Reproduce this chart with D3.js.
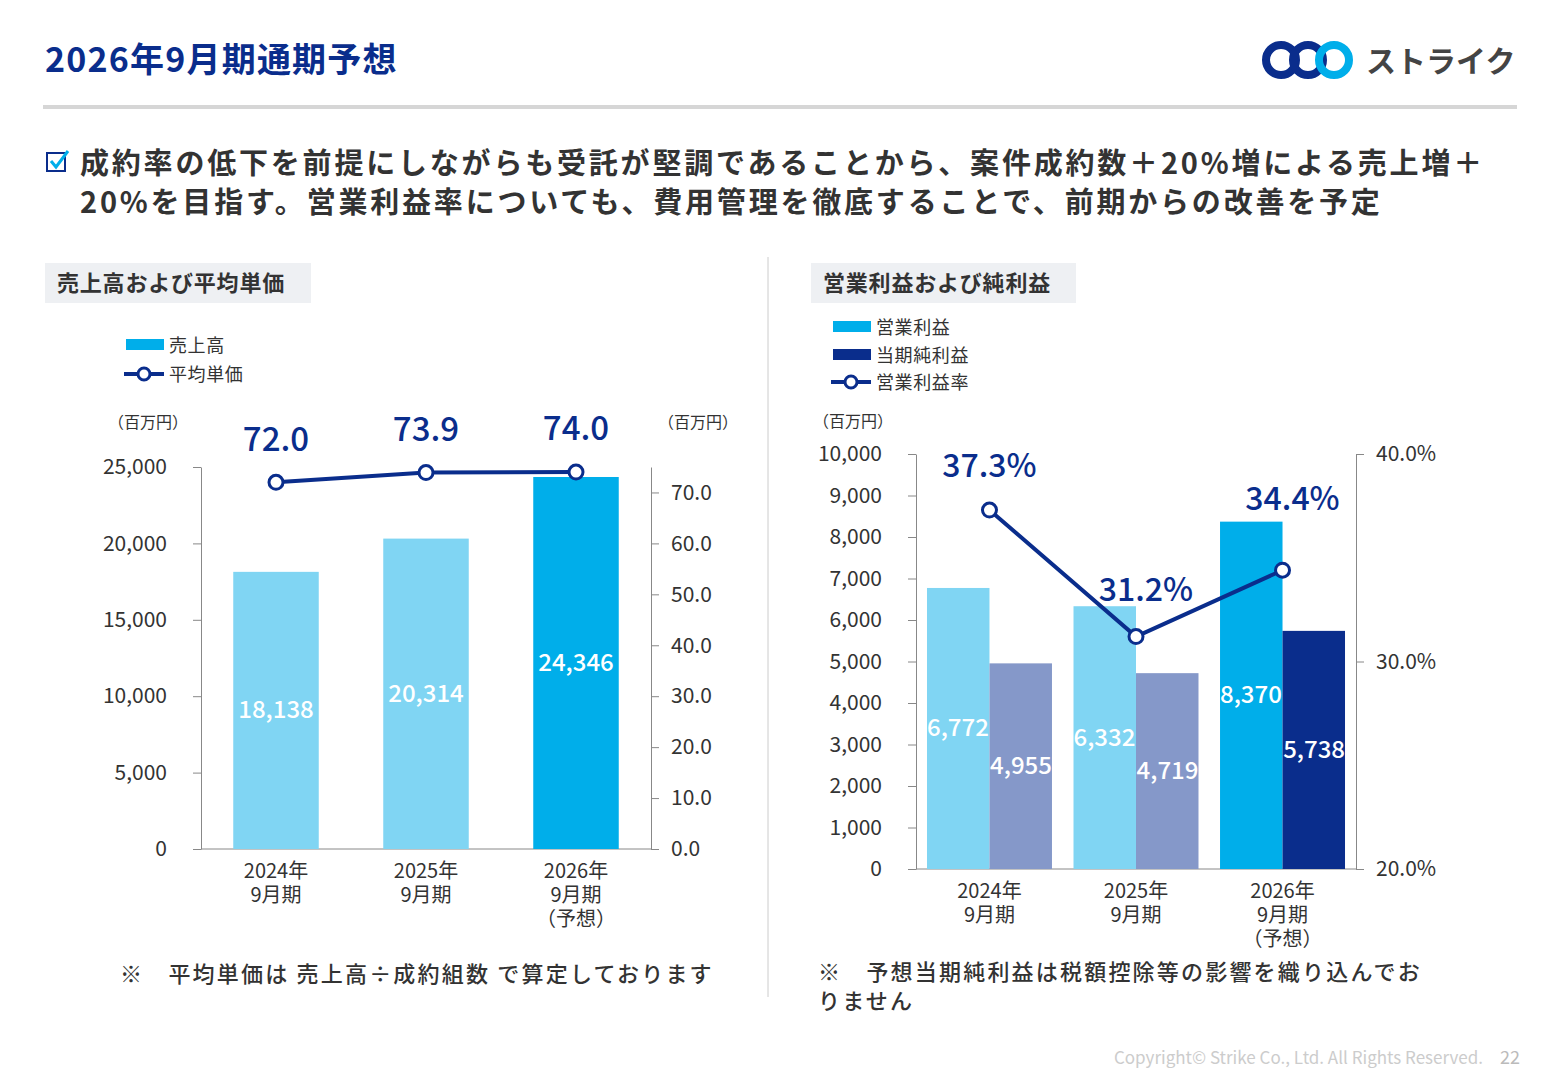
<!DOCTYPE html>
<html><head><meta charset="utf-8">
<script src="https://cdn.jsdelivr.net/npm/d3@7"></script>
<style>
body{margin:0;background:#fff;font-family:"Noto Sans CJK JP","Noto Sans",sans-serif;}
text{font-family:"Noto Sans CJK JP","Noto Sans",sans-serif;}
</style></head><body>
<svg id="c" width="1560" height="1080"></svg>
<script>
// Data
const periods = [["2024年","9月期"],["2025年","9月期"],["2026年","9月期","（予想）"]];
const sales = [18138, 20314, 24346];
const avgPrice = [72.0, 73.9, 74.0];
const opProfit = [6772, 6332, 8370];
const netProfit = [4955, 4719, 5738];
const opMargin = [37.3, 31.2, 34.4];
const salesTicks = [0, 5000, 10000, 15000, 20000, 25000];
const priceTicks = [0, 10, 20, 30, 40, 50, 60, 70];
const profitTicks = d3.range(0, 10001, 1000);
const marginTicks = [20, 30, 40];

const navy = "#0a2d8c", light = "#80d5f3", cyan = "#00aeea", lilac = "#8598c9", grey = "#333";
const svg = d3.select("#c");

// Header
svg.append("text").attr("x", 45).attr("y", 72).attr("font-size", 34).attr("font-weight", 700)
  .attr("letter-spacing", 1.2).attr("fill", navy).text("2026年9月期通期予想");
svg.append("rect").attr("x", 43).attr("y", 105).attr("width", 1474).attr("height", 4).attr("fill", "#d6d6d6");
// logo
const lg = svg.append("g").attr("transform", "translate(1263,60)");
[[0, navy], [27, navy], [53, cyan]].forEach(([dx, c]) => {
  lg.append("circle").attr("cx", 18 + dx).attr("cy", 0).attr("r", 15).attr("fill", "none")
    .attr("stroke", c).attr("stroke-width", 8);
});
svg.append("text").attr("x", 1366).attr("y", 72).attr("font-size", 30).attr("font-weight", 700)
  .attr("fill", "#444").text("ストライク");

// checkbox + lead
const cb = svg.append("g").attr("transform", "translate(47,153)");
cb.append("rect").attr("width", 18).attr("height", 18).attr("fill", "none").attr("stroke", navy).attr("stroke-width", 2);
cb.append("path").attr("d", "M4,8 L9,14 L21,-2").attr("fill", "none").attr("stroke", cyan).attr("stroke-width", 3);
svg.append("text").attr("x", 80).attr("y", 174).attr("font-size", 29).attr("font-weight", 700).attr("fill", grey)
  .attr("letter-spacing", 2.8).text("成約率の低下を前提にしながらも受託が堅調であることから、案件成約数＋20%増による売上増＋");
svg.append("text").attr("x", 80).attr("y", 213).attr("font-size", 29).attr("font-weight", 700).attr("fill", grey)
  .attr("letter-spacing", 2.8).text("20%を目指す。営業利益率についても、費用管理を徹底することで、前期からの改善を予定");

svg.append("line").attr("x1", 768).attr("x2", 768).attr("y1", 257).attr("y2", 997).attr("stroke", "#ccc");

function panelTitle(x, w, t) {
  svg.append("rect").attr("x", x).attr("y", 263).attr("width", w).attr("height", 40).attr("fill", "#eef0f3");
  svg.append("text").attr("x", x + 12).attr("y", 291).attr("font-size", 22).attr("font-weight", 700)
    .attr("letter-spacing", 0.8).attr("fill", grey).text(t);
}
panelTitle(45, 266, "売上高および平均単価");
panelTitle(811, 265, "営業利益および純利益");

function legendRect(x, y, c, t) {
  svg.append("rect").attr("x", x).attr("y", y - 6).attr("width", 38).attr("height", 11).attr("fill", c);
  svg.append("text").attr("x", x + 43).attr("y", y + 7).attr("font-size", 18).attr("letter-spacing", 0.6).attr("fill", grey).text(t);
}
function legendLine(x, y, t) {
  svg.append("line").attr("x1", x).attr("x2", x + 40).attr("y1", y).attr("y2", y).attr("stroke", navy).attr("stroke-width", 4);
  svg.append("circle").attr("cx", x + 20).attr("cy", y).attr("r", 6).attr("fill", "#fff").attr("stroke", navy).attr("stroke-width", 3);
  svg.append("text").attr("x", x + 45).attr("y", y + 7).attr("font-size", 18).attr("letter-spacing", 0.6).attr("fill", grey).text(t);
}
function styleAxis(g) {
  g.selectAll("path,line").attr("stroke", "#888");
  g.selectAll("text").attr("font-size", 21).attr("fill", grey);
}
function xLabels(x, yTop) {
  periods.forEach((p, i) => {
    const t = svg.append("text").attr("text-anchor", "middle").attr("font-size", 20).attr("fill", grey);
    p.forEach((s, j) => t.append("tspan").attr("x", x(i)).attr("y", yTop + j * 24).text(s));
  });
}

// ---------- Left chart ----------
legendRect(126, 345, cyan, "売上高");
legendLine(124, 374, "平均単価");
svg.append("text").attr("x", 108).attr("y", 428).attr("font-size", 16).attr("fill", grey).text("（百万円）");
svg.append("text").attr("x", 658).attr("y", 428).attr("font-size", 16).attr("fill", grey).text("（百万円）");

const xL = d3.scaleBand().domain(d3.range(3)).range([201, 651]).paddingInner(0.43).paddingOuter(0.215);
const yL = d3.scaleLinear().domain([0, 25000]).range([849, 467]);
const yL2 = d3.scaleLinear().domain([0, 75]).range([849, 467]);

svg.append("g").attr("transform", "translate(201,0)")
  .call(d3.axisLeft(yL).tickValues(salesTicks).tickFormat(d3.format(",")).tickSize(8).tickPadding(26).tickSizeOuter(0))
  .call(styleAxis);
svg.append("g").attr("transform", "translate(651,0)")
  .call(d3.axisRight(yL2).tickValues(priceTicks).tickFormat(d3.format(".1f")).tickSize(8).tickPadding(12).tickSizeOuter(0))
  .call(styleAxis);
svg.append("line").attr("x1", 201).attr("x2", 651).attr("y1", 849).attr("y2", 849).attr("stroke", "#888");

svg.selectAll(".sb").data(sales).enter().append("rect")
  .attr("x", (d, i) => xL(i)).attr("width", xL.bandwidth())
  .attr("y", d => yL(d)).attr("height", d => 849 - yL(d))
  .attr("fill", (d, i) => i === 2 ? cyan : light);
svg.selectAll(".sl").data(sales).enter().append("text")
  .attr("x", (d, i) => xL(i) + xL.bandwidth() / 2).attr("y", d => yL(d / 2) + 8)
  .attr("text-anchor", "middle").attr("font-size", 24).attr("font-weight", 500).attr("fill", "#fff").text(d3.format(","));

const cxL = i => xL(i) + xL.bandwidth() / 2;
svg.append("path").datum(avgPrice).attr("fill", "none").attr("stroke", navy).attr("stroke-width", 4)
  .attr("d", d3.line().x((d, i) => cxL(i)).y(d => yL2(d)));
svg.selectAll(".pc").data(avgPrice).enter().append("circle")
  .attr("cx", (d, i) => cxL(i)).attr("cy", d => yL2(d)).attr("r", 7)
  .attr("fill", "#fff").attr("stroke", navy).attr("stroke-width", 3);
svg.selectAll(".pl").data(avgPrice).enter().append("text")
  .attr("x", (d, i) => cxL(i)).attr("y", (d, i) => [451, 441, 440][i])
  .attr("text-anchor", "middle").attr("font-size", 33).attr("font-weight", 500).attr("fill", navy).text(d3.format(".1f"));
xLabels(cxL, 878);
svg.append("text").attr("x", 120).attr("y", 982).attr("font-size", 22).attr("font-weight", 500).attr("fill", grey)
  .attr("letter-spacing", 2.2).text("※　平均単価は 売上高÷成約組数 で算定しております");

// ---------- Right chart ----------
legendRect(833, 327, cyan, "営業利益");
legendRect(833, 355, navy, "当期純利益");
legendLine(831, 382, "営業利益率");
svg.append("text").attr("x", 813).attr("y", 427).attr("font-size", 16).attr("fill", grey).text("（百万円）");

const xR = d3.scaleBand().domain(d3.range(3)).range([916, 1356]).paddingInner(0.147).paddingOuter(0.075);
const yR = d3.scaleLinear().domain([0, 10000]).range([869, 454]);
const yR2 = d3.scaleLinear().domain([20, 40]).range([869, 454]);

svg.append("g").attr("transform", "translate(916,0)")
  .call(d3.axisLeft(yR).tickValues(profitTicks).tickFormat(d3.format(",")).tickSize(8).tickPadding(26).tickSizeOuter(0))
  .call(styleAxis);
svg.append("g").attr("transform", "translate(1356,0)")
  .call(d3.axisRight(yR2).tickValues(marginTicks).tickFormat(d => d.toFixed(1) + "%").tickSize(8).tickPadding(12).tickSizeOuter(0))
  .call(styleAxis);
svg.append("line").attr("x1", 916).attr("x2", 1356).attr("y1", 869).attr("y2", 869).attr("stroke", "#888");

const half = xR.bandwidth() / 2;
const series = [
  {vals: opProfit, off: 0, col: i => i === 2 ? cyan : light, anchor: "start", dx: 0},
  {vals: netProfit, off: half, col: i => i === 2 ? navy : lilac, anchor: "end", dx: half}
];
series.forEach(s => {
  svg.append("g").selectAll("rect").data(s.vals).enter().append("rect")
    .attr("x", (d, i) => xR(i) + s.off).attr("width", half)
    .attr("y", d => yR(d)).attr("height", d => 869 - yR(d)).attr("fill", (d, i) => s.col(i));
  svg.append("g").selectAll("text").data(s.vals).enter().append("text")
    .attr("x", (d, i) => xR(i) + s.off + s.dx).attr("y", d => yR(d * 0.5) + 8)
    .attr("text-anchor", s.anchor).attr("font-size", 24).attr("font-weight", 500).attr("fill", "#fff").text(d3.format(","));
});

const cxR = i => xR(i) + half;
svg.append("path").datum(opMargin).attr("fill", "none").attr("stroke", navy).attr("stroke-width", 4)
  .attr("d", d3.line().x((d, i) => cxR(i)).y(d => yR2(d)));
svg.selectAll(".mc").data(opMargin).enter().append("circle")
  .attr("cx", (d, i) => cxR(i)).attr("cy", d => yR2(d)).attr("r", 7)
  .attr("fill", "#fff").attr("stroke", navy).attr("stroke-width", 3);
svg.selectAll(".ml").data(opMargin).enter().append("text")
  .attr("x", (d, i) => cxR(i) + [0, 10, 10][i]).attr("y", (d, i) => yR2(d) - [33, 36, 60][i])
  .attr("text-anchor", "middle").attr("font-size", 32).attr("font-weight", 500).attr("fill", navy).text(d => d.toFixed(1) + "%");
xLabels(cxR, 898);
svg.append("text").attr("x", 818).attr("y", 980).attr("font-size", 22).attr("font-weight", 500).attr("fill", grey)
  .attr("letter-spacing", 2.2).text("※　予想当期純利益は税額控除等の影響を織り込んでお");
svg.append("text").attr("x", 818).attr("y", 1009).attr("font-size", 22).attr("font-weight", 500).attr("fill", grey)
  .attr("letter-spacing", 2.2).text("りません");

svg.append("text").attr("x", 1483).attr("y", 1064).attr("text-anchor", "end").attr("font-size", 17).attr("fill", "#ccc")
  .text("Copyright© Strike Co., Ltd. All Rights Reserved.");
svg.append("text").attr("x", 1520).attr("y", 1064).attr("text-anchor", "end").attr("font-size", 18).attr("fill", "#bbb").text("22");
</script></body></html>
